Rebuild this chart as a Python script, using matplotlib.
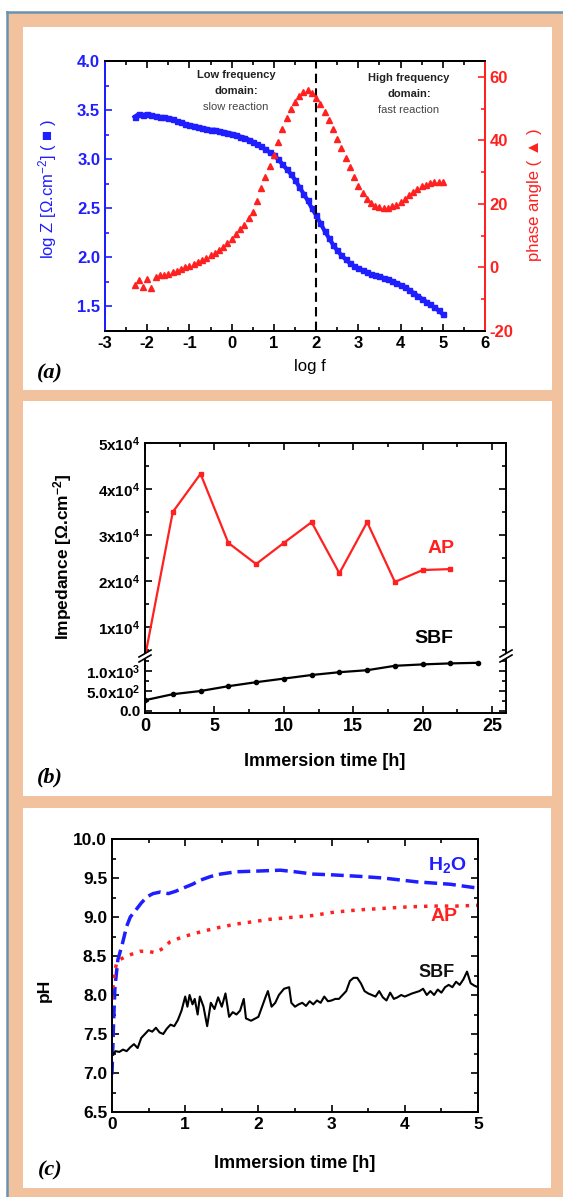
import numpy as np
import matplotlib
matplotlib.use('Agg')
import matplotlib.pyplot as plt
from matplotlib.patches import Rectangle, Polygon
from matplotlib.lines import Line2D
from matplotlib.ticker import MultipleLocator, FixedLocator, FixedFormatter

plt.rcParams['font.family'] = ['Liberation Sans', 'DejaVu Sans']
plt.rcParams['font.weight'] = 'bold'
plt.rcParams['axes.unicode_minus'] = False
plt.rcParams['mathtext.fontset'] = 'custom'
plt.rcParams['mathtext.rm'] = 'Liberation Sans'
plt.rcParams['mathtext.bf'] = 'Liberation Sans:bold'
plt.rcParams['mathtext.default'] = 'regular'

# ---- (a) Bode plot ----
log_f = np.round(np.arange(-2.3, 5.01, 0.1), 2)
log_z = [3.43, 3.46, 3.45, 3.46, 3.45, 3.44, 3.43, 3.43, 3.42, 3.41,
         3.39, 3.38, 3.36, 3.35, 3.34, 3.33, 3.32, 3.31, 3.30, 3.30,
         3.29, 3.28, 3.27, 3.26, 3.25, 3.23, 3.22, 3.20, 3.18, 3.15,
         3.13, 3.10, 3.07, 3.04, 3.00, 2.95, 2.90, 2.85, 2.79, 2.72,
         2.65, 2.58, 2.50, 2.43, 2.35, 2.27, 2.20, 2.13, 2.07, 2.02,
         1.98, 1.94, 1.91, 1.89, 1.87, 1.85, 1.83, 1.82, 1.81, 1.79,
         1.78, 1.76, 1.74, 1.72, 1.70, 1.67, 1.64, 1.61, 1.58, 1.55,
         1.52, 1.49, 1.46, 1.42]
phase = [-5.5, -4, -6, -3.5, -6.5, -3, -2.5, -2.5, -2, -1.5,
         -1, -0.5, 0, 0.5, 1, 1.8, 2.5, 3, 3.8, 4.6,
         5.5, 6.5, 7.8, 9, 10.5, 12, 13.5, 15.5, 17.5, 21,
         25, 28.5, 32, 35.5, 39.5, 43.5, 47, 50, 52, 54,
         55.3, 55.8, 55, 53.5, 51.5, 49, 46.5, 43.5, 40.5, 37.5,
         34.5, 31.5, 28.5, 25.5, 23.5, 21.5, 20.3, 19.5, 18.9, 18.7,
         18.8, 19.2, 19.8, 20.6, 21.6, 22.7, 23.8, 24.7, 25.5, 26.1,
         26.5, 26.8, 26.9, 27]

# ---- (b) impedance vs immersion time ----
t_ap = [0, 2, 4, 6, 8, 10, 12, 14, 16, 18, 20, 22]
z_ap = [3500, 35000, 43300, 28300, 23700, 28300, 32800, 21700, 32800, 19800, 22400, 22600]
t_sbf = [0, 2, 4, 6, 8, 10, 12, 14, 16, 18, 20, 22, 24]
z_sbf = [270, 420, 500, 620, 720, 810, 900, 970, 1020, 1130, 1165, 1190, 1205]
hi_ticks = [1e4, 2e4, 3e4, 4e4, 5e4]
hi_labels = ['1x10$^4$', '2x10$^4$', '3x10$^4$', '4x10$^4$', '5x10$^4$']
lo_ticks = [0, 500, 1000]
lo_labels = ['0.0', '5.0x10$^2$', '1.0x10$^3$']

# ---- (c) pH vs immersion time ----
t_h2o = [0, 0.02, 0.04, 0.08, 0.14, 0.2, 0.25, 0.31, 0.4, 0.48, 0.56, 0.66, 0.77,
         0.87, 0.97, 1.1, 1.2, 1.35, 1.48, 1.7, 2.02, 2.3, 2.5, 2.75, 3.02, 3.4,
         3.7, 4.17, 4.62, 5.0]
ph_h2o = [6.98, 7.6, 8.1, 8.45, 8.65, 8.88, 9.0, 9.07, 9.18, 9.26, 9.3, 9.32, 9.3,
          9.33, 9.37, 9.42, 9.47, 9.52, 9.55, 9.58, 9.59, 9.6, 9.58, 9.55, 9.54, 9.52,
          9.5, 9.45, 9.42, 9.37]
t_ap_ph = [0, 0.02, 0.06, 0.1, 0.2, 0.38, 0.5, 0.59, 0.7, 0.79, 0.95, 1.13, 1.3,
           1.48, 1.7, 1.93, 2.15, 2.39, 2.75, 3.02, 3.35, 3.7, 4.05, 4.38, 4.7, 5.0]
ph_ap = [7.95, 8.2, 8.4, 8.45, 8.5, 8.56, 8.56, 8.54, 8.6, 8.68, 8.74, 8.79, 8.83,
         8.87, 8.91, 8.94, 8.97, 8.99, 9.02, 9.06, 9.09, 9.11, 9.13, 9.14, 9.14, 9.15]
t_sbf_ph = [0, 0.05, 0.1, 0.15, 0.2, 0.25, 0.3, 0.35, 0.4, 0.45, 0.5, 0.55, 0.6,
            0.65, 0.7, 0.75, 0.8, 0.85, 0.9, 0.95, 1.0, 1.03, 1.06, 1.1, 1.13, 1.17,
            1.2, 1.25, 1.3, 1.35, 1.4, 1.45, 1.5, 1.55, 1.6, 1.65, 1.7, 1.75, 1.8,
            1.83, 1.9, 2.0, 2.05, 2.1, 2.13, 2.18, 2.23, 2.28, 2.35, 2.42, 2.45, 2.5,
            2.55, 2.6, 2.65, 2.7, 2.75, 2.8, 2.85, 2.9, 2.95, 3.0, 3.05, 3.1, 3.15,
            3.2, 3.25, 3.3, 3.35, 3.4, 3.45, 3.5, 3.55, 3.6, 3.65, 3.7, 3.75, 3.8,
            3.85, 3.9, 3.95, 4.0, 4.1, 4.2, 4.25, 4.3, 4.35, 4.4, 4.45, 4.5, 4.55,
            4.6, 4.65, 4.7, 4.75, 4.8, 4.85, 4.9, 4.95, 5.0]
ph_sbf = [7.22, 7.28, 7.27, 7.3, 7.28, 7.33, 7.37, 7.32, 7.45, 7.5, 7.55, 7.53, 7.58,
          7.52, 7.5, 7.57, 7.62, 7.6, 7.68, 7.8, 7.98, 7.85, 8.0, 7.88, 7.95, 7.75,
          7.98, 7.85, 7.6, 7.9, 7.82, 7.97, 7.85, 8.02, 7.72, 7.78, 7.75, 7.8, 7.95,
          7.7, 7.67, 7.72, 7.85, 7.98, 8.05, 7.85, 7.9, 8.0, 8.08, 8.1, 7.9, 7.85,
          7.88, 7.9, 7.86, 7.92, 7.88, 7.93, 7.9, 7.98, 7.92, 7.93, 7.95, 7.95, 8.0,
          8.05, 8.18, 8.22, 8.22, 8.15, 8.05, 8.02, 8.0, 7.98, 8.05, 7.97, 7.93, 8.03,
          7.95, 7.97, 8.0, 7.98, 8.02, 8.05, 8.08, 8.0, 8.05, 8.0, 8.07, 8.03, 8.1,
          8.13, 8.1, 8.17, 8.13, 8.2, 8.3, 8.15, 8.12, 8.1]

W, H = 563, 1197
BLUE = '#1e1eff'
RED = '#ff2020'
PEACH = '#f2c29e'
EDGE = '#6b93ad'


def fx(p):
    return p / W


def fy(p):
    return 1 - p / H


def axes_px(x0, y0, x1, y1):
    return [fx(x0), fy(y1), (x1 - x0) / W, (y1 - y0) / H]


def style(ax, **kw):
    ax.tick_params(which='both', direction='in', width=1.2, **kw)
    ax.tick_params(which='major', length=5)
    ax.tick_params(which='minor', length=3)
    for s in ax.spines.values():
        s.set_linewidth(1.4)


fig = plt.figure(figsize=(W / 100, H / 100), dpi=100)
fig.patch.set_facecolor('white')
fig.patches.append(Rectangle((fx(7), 0), 1 - fx(7), fy(12), transform=fig.transFigure,
                             facecolor=PEACH, edgecolor='none', zorder=-20))
for x0, y0, x1, y1 in [(23, 27, 552, 390), (23, 401, 552, 796), (23, 808, 551, 1188)]:
    fig.patches.append(Rectangle((fx(x0), fy(y1)), (x1 - x0) / W, (y1 - y0) / H,
                                 transform=fig.transFigure, facecolor='white',
                                 edgecolor='none', zorder=-10))
fig.add_artist(Line2D([fx(7), fx(7)], [0, fy(12)], color=EDGE, lw=1.8, transform=fig.transFigure))
fig.add_artist(Line2D([fx(7), 1], [fy(12), fy(12)], color=EDGE, lw=1.8, transform=fig.transFigure))

# ================= (a) =================
ax_a = fig.add_axes(axes_px(105, 61, 485, 331))
ax_a.plot(log_f, log_z, '-s', lw=3, ms=3.6, color=BLUE, mec=BLUE)
ax_a.set_xlim(-3, 6)
ax_a.set_ylim(1.25, 4.0)
ax_a.xaxis.set_major_locator(MultipleLocator(1))
ax_a.xaxis.set_minor_locator(MultipleLocator(0.5))
ax_a.yaxis.set_major_locator(MultipleLocator(0.5))
ax_a.yaxis.set_minor_locator(MultipleLocator(0.25))
ax_a.yaxis.set_major_formatter('{x:.1f}')
style(ax_a, top=True, right=False, labelsize=12)
ax_a.tick_params(axis='y', which='both', colors=BLUE)
ax_a.axvline(2, color='k', ls=(0, (4.5, 2.5)), lw=1.5)

ax_a2 = ax_a.twinx()
ax_a2.plot(log_f, phase, '^', ms=4, color=RED, mec=RED)
ax_a2.set_ylim(-20, 65)
ax_a2.yaxis.set_major_locator(FixedLocator([-20, 0, 20, 40, 60]))
ax_a2.yaxis.set_minor_locator(FixedLocator([-10, 10, 30, 50]))
style(ax_a2, labelsize=12)
ax_a2.tick_params(axis='y', which='both', colors=RED)
for ax in (ax_a, ax_a2):
    ax.spines['left'].set_color(BLUE)
    ax.spines['right'].set_color(RED)

txt = dict(ha='center', va='center', fontsize=8, color='#222222')
ax_a.text(0.1, 3.86, 'Low frequency', **txt)
ax_a.text(0.1, 3.69, 'domain:', **txt)
ax_a.text(0.1, 3.53, 'slow reaction', fontweight='normal', **{**txt, 'color': '#444444'})
ax_a.text(4.2, 3.83, 'High frequency', **txt)
ax_a.text(4.2, 3.66, 'domain:', **txt)
ax_a.text(4.2, 3.50, 'fast reaction', fontweight='normal', **{**txt, 'color': '#444444'})

fig.text(fx(48), fy(189), 'log Z [Ω.cm$^{-2}$] ( ■ )', rotation=90, ha='center', va='center',
         fontsize=12, fontweight='normal', color=BLUE)
fig.text(fx(535), fy(195), 'phase angle ( ▲ )', rotation=90, ha='center', va='center',
         fontsize=12, fontweight='normal', color=RED)
fig.text(fx(310), fy(367), 'log f', ha='center', va='center', fontsize=12, fontweight='normal')

# ================= (b) =================
ax_bu = fig.add_axes(axes_px(145, 443, 506, 657))
ax_bl = fig.add_axes(axes_px(145, 657, 506, 713), sharex=ax_bu)
ax_bu.plot(t_ap, z_ap, '-s', color=RED, lw=1.6, ms=3, clip_on=False)
ax_bl.plot(t_sbf, z_sbf, '-o', color='k', lw=1.6, ms=3)
ax_bu.set_xlim(0, 26)
ax_bu.set_ylim(3500, 50000)
ax_bl.set_ylim(-50, 1350)
ax_bu.xaxis.set_major_locator(MultipleLocator(5))
ax_bu.xaxis.set_minor_locator(MultipleLocator(2.5))
ax_bu.yaxis.set_major_locator(FixedLocator(hi_ticks))
ax_bu.yaxis.set_major_formatter(FixedFormatter(hi_labels))
ax_bu.yaxis.set_minor_locator(MultipleLocator(5000))
ax_bl.yaxis.set_major_locator(FixedLocator(lo_ticks))
ax_bl.yaxis.set_major_formatter(FixedFormatter(lo_labels))
ax_bl.yaxis.set_minor_locator(MultipleLocator(250))
style(ax_bu, top=True, bottom=False, right=True, labelbottom=False, labelsize=11)
style(ax_bl, top=False, right=True, labelsize=11)
ax_bl.tick_params(axis='x', labelsize=13)
ax_bu.spines['bottom'].set_visible(False)
ax_bl.spines['top'].set_visible(False)

# break marks
for xb in (145, 506):
    gap = Polygon([[fx(xb - 5), fy(661)], [fx(xb + 5), fy(655)], [fx(xb + 5), fy(651)],
                   [fx(xb - 5), fy(657)]], closed=True, transform=fig.transFigure,
                  facecolor='white', edgecolor='none', zorder=5)
    fig.add_artist(gap)
    for off in (0, -5):
        fig.add_artist(Line2D([fx(xb - 6), fx(xb + 6)], [fy(662 + off), fy(655 + off)],
                              color='k', lw=1.2, transform=fig.transFigure, zorder=6))

ax_bu.text(21.3, 27000, 'AP', color=RED, fontsize=14, ha='center', va='center')
ax_bu.text(20.8, 7600, 'SBF', color='k', fontsize=14, ha='center', va='center')
fig.text(fx(63), fy(557), 'Impedance [Ω.cm$^{-2}$]', rotation=90, ha='center', va='center',
         fontsize=12.5)
fig.text(fx(325), fy(761), 'Immersion time [h]', ha='center', va='center', fontsize=13)

# ================= (c) =================
ax_c = fig.add_axes(axes_px(112, 839, 478, 1112))
ax_c.plot(t_h2o, ph_h2o, color=BLUE, lw=2.5, ls=(0, (3.7, 1.7)))
ax_c.plot(t_ap_ph, ph_ap, color=RED, lw=2.5, ls=(0, (1, 2)))
ax_c.plot(t_sbf_ph, ph_sbf, color='k', lw=1.5)
ax_c.set_xlim(0, 5)
ax_c.set_ylim(6.5, 10)
ax_c.xaxis.set_major_locator(MultipleLocator(1))
ax_c.xaxis.set_minor_locator(MultipleLocator(0.5))
ax_c.yaxis.set_major_locator(MultipleLocator(0.5))
ax_c.yaxis.set_minor_locator(MultipleLocator(0.25))
ax_c.yaxis.set_major_formatter('{x:.1f}')
style(ax_c, top=True, right=True, labelsize=12.5)

ax_c.text(4.58, 9.67, 'H$_2$O', color=BLUE, fontsize=14, ha='center', va='center')
ax_c.text(4.54, 9.0, 'AP', color=RED, fontsize=14, ha='center', va='center')
ax_c.text(4.44, 8.29, 'SBF', color='#111111', fontsize=13, ha='center', va='center')
fig.text(fx(44), fy(990), 'pH', rotation=90, ha='center', va='center', fontsize=12.5)
fig.text(fx(295), fy(1163), 'Immersion time [h]', ha='center', va='center', fontsize=13)

# panel letters
for lab, py in (('(a)', 373), ('(b)', 777), ('(c)', 1170)):
    fig.text(fx(50), fy(py), lab, ha='center', va='center', fontsize=16,
             family='Liberation Serif', style='italic', fontweight='bold')

fig.savefig('out.png', dpi=100, facecolor=fig.get_facecolor())
